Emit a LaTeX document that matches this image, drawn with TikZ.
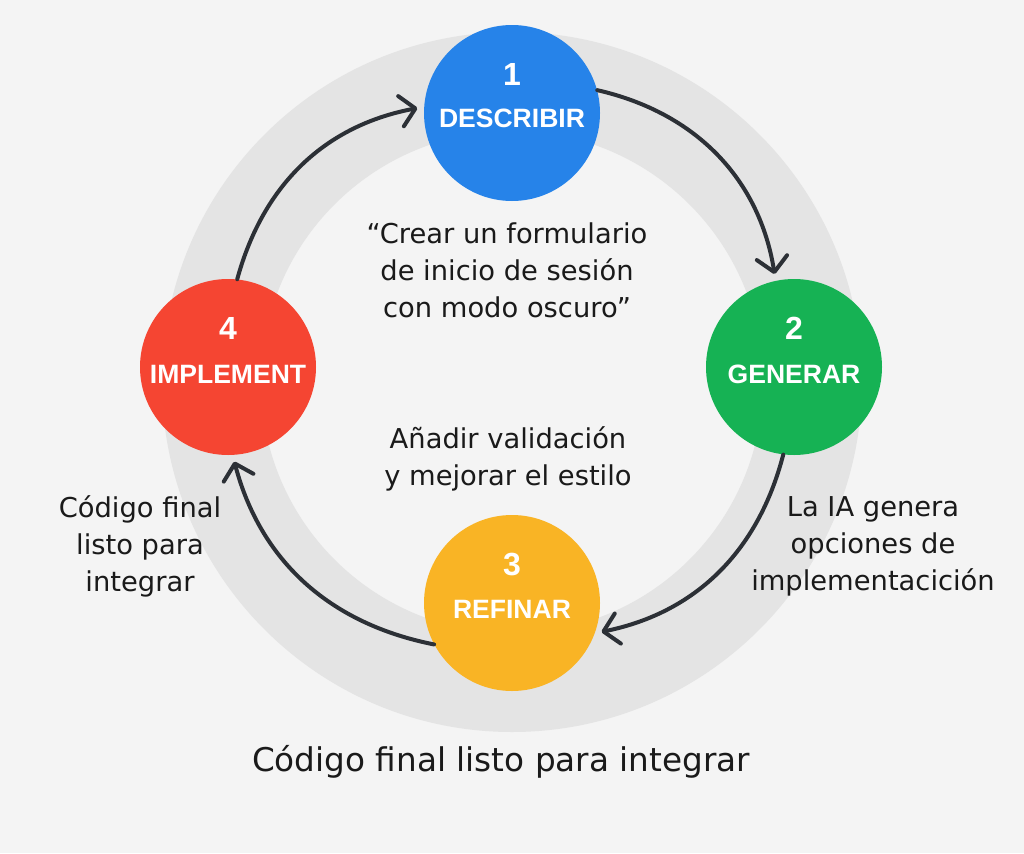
\documentclass[tikz,border=0pt]{standalone}
\usepackage{fontspec}
\setmainfont{DejaVu Sans}
\newfontfamily\labfont{Liberation Sans}
\usetikzlibrary{arrows.meta,calc}
\definecolor{bg}{HTML}{F4F4F4}
\definecolor{ringc}{HTML}{E4E4E4}
\definecolor{cblue}{HTML}{2683E9}
\definecolor{cgreen}{HTML}{16B254}
\definecolor{cyellow}{HTML}{F9B425}
\definecolor{cred}{HTML}{F54532}
\definecolor{arr}{HTML}{2C3036}
\definecolor{txt}{HTML}{1A1A1A}
\begin{document}
\begin{tikzpicture}[x=0.75pt,y=-0.75pt,
  stage/.style={circle, minimum size=132pt, inner sep=0pt},
  num/.style={font=\labfont\bfseries\fontsize{24}{28}\selectfont, text=white, inner sep=0pt},
  lab/.style={font=\labfont\bfseries\fontsize{19.9}{24}\selectfont, text=white, inner sep=0pt},
  body/.style={font=\fontsize{20.5}{27.75}\selectfont, align=center, text=txt, inner sep=0pt},
  flow/.style={draw=arr, line width=3pt, line cap=round,
    -{Straight Barb[length=11pt,width=23pt,round]}, shorten >=5pt}
]
\fill[bg] (0,0) rectangle (1024,853);
\useasboundingbox (0,0) rectangle (1024,853);
\fill[ringc, even odd rule] (512,382) circle[radius=350] (512,382) circle[radius=251];

\node[stage, fill=cblue] (s1) at (512,113) {};
\node[stage, fill=cgreen] (s2) at (794,367) {};
\node[stage, fill=cyellow] (s3) at (512,603) {};
\node[stage, fill=cred] (s4) at (228,367) {};

\node[num] (n1) at (512,74) {1};
\node[lab] (l1) at (512,118) {DESCRIBIR};
\node[num] (n2) at (794,328) {2};
\node[lab] (l2) at (794,374) {GENERAR};
\node[num] (n3) at (512,564) {3};
\node[lab] (l3) at (512,609) {REFINAR};
\node[num] (n4) at (228,328) {4};
\node[lab] (l4) at (228,374) {IMPLEMENT};

\draw[flow] (s1.15) to[bend left=34] (s2.102);
\draw[flow] (s2.263) to[bend left=32] (s3.340);
\draw[flow] (s3.208) to[bend left=32] (s4.273);
\draw[flow] (s4.84) to[bend left=32] (s1.176);

\node[body] (t1) at (507,270) {“Crear un formulario\\de inicio de sesión\\con modo oscuro”};
\node[body] (t2) at (508,459) {Añadir validación\\y mejorar el estilo};
\node[body] (t3) at (873,546) {La IA genera\\opciones de\\implementacición};
\node[body] (t4) at (140,546) {Código final\\listo para\\integrar};
\node[font=\fontsize{24.5}{30}\selectfont, text=txt, inner sep=0pt] (title) at (501,762) {Código final listo para integrar};
\end{tikzpicture}
\end{document}
